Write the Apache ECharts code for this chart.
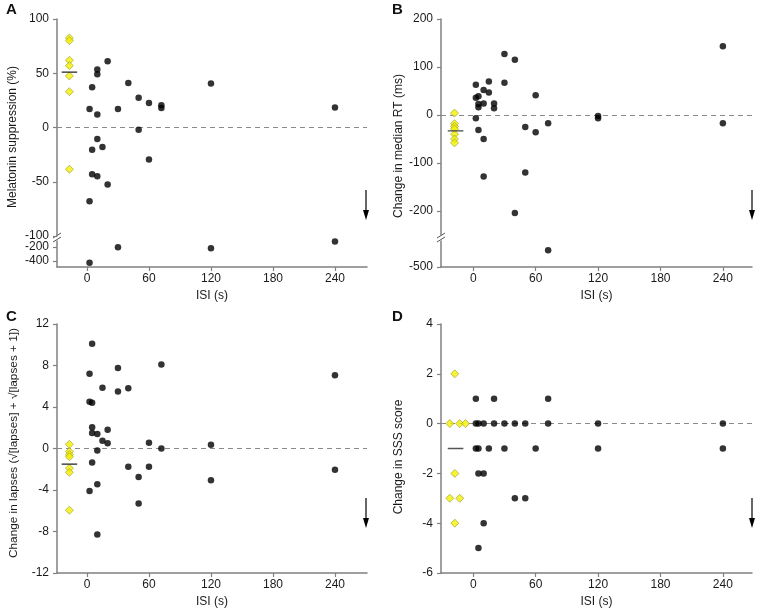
<!DOCTYPE html>
<html>
<head>
<meta charset="utf-8">
<script src="https://cdn.jsdelivr.net/npm/echarts@6/dist/echarts.min.js"></script>
<style>html,body{margin:0;padding:0;background:#fff}#c{width:760px;height:613px}</style>
</head>
<body>
<div id="c"></div>
<script>
// ---------- DATA ----------
const xTicks = [0, 60, 120, 180, 240];

// Panel A: melatonin suppression (%)
const aIsiUpper = [2.5, 5, 10, 10, 10, 20, 30, 40, 50, 50, 60, 60, 72, 72, 120, 240, 10, 5, 15, 5, 10, 20, 2.5];
const aValUpper = [17, 37, 53.5, 49, 12, 61, 17, 41, 27.5, -2, 22.5, -29.5, 20.5, 18, 40.5, 18.5, -10.5, -20.5, -18, -43, -45, -52.5, -68];
const aIsiLower = [2.5, 30, 120, 240];
const aValLower = [-430, -205, -220, -122];
const aIsiCtrl = [-17, -17, -17, -17, -17, -17, -17];
const aValCtrl = [82.5, 80, 62, 57, 47.5, 33, -38.5];
const aCtrlMean = 51;
const aTicksUpper = [-100, -50, 0, 50, 100];
const aTicksLower = [-200, -400];

// Panel B: change in median RT (ms)
const bIsiUpper = [2.5, 2.5, 2.5, 5, 5, 5, 5, 10, 10, 10, 10, 15, 15, 20, 20, 30, 30, 40, 40, 50, 50, 60, 60, 72, 120, 120, 240, 240];
const bValUpper = [63, 36, -7, 39, 23, 16, -31, 52, 24, -50, -128, 70, 47, 24, 14, 127, 67, 115, -204, -25, -120, 41, -36, -17, -2, -7, 143, -17];
const bIsiLower = [72];
const bValLower = [-340];
const bIsiCtrl = [-18, -18, -18, -18, -18, -18, -18];
const bValCtrl = [4, -18, -24, -29, -40, -50, -58];
const bCtrlMean = -33;
const bTicksUpper = [-200, -100, 0, 100, 200];
const bTicksLower = [-500];

// Panel C: change in lapses
const cIsi = [5, 2.5, 2.5, 5, 5, 5, 10, 10, 5, 2.5, 10, 10, 15, 15, 20, 20, 30, 30, 40, 40, 50, 50, 60, 60, 72, 72, 120, 120, 240, 240];
const cVal = [10.1, 7.2, 4.5, 4.4, 2.05, 1.5, 1.4, -0.2, -1.35, -4.1, -3.45, -8.3, 5.85, 0.75, 1.8, 0.5, 7.75, 5.5, 5.8, -1.75, -2.75, -5.3, 0.55, -1.75, 8.1, 0, 0.35, -3.05, 7.05, -2.05];
const cIsiCtrl = [-17, -17, -17, -17, -17, -17, -17];
const cValCtrl = [0.4, -0.3, -0.6, -0.8, -1.9, -2.3, -5.95];
const cCtrlMean = -1.5;
const cTicks = [-12, -8, -4, 0, 4, 8, 12];

// Panel D: change in SSS score
const dIsi = [2.5, 20, 72, 2.5, 5, 10, 20, 30, 40, 50, 72, 120, 240, 2.5, 5, 15, 30, 60, 120, 240, 5, 10, 40, 50, 10, 5];
const dVal = [1, 1, 1, 0, 0, 0, 0, 0, 0, 0, 0, 0, 0, -1, -1, -1, -1, -1, -1, -1, -2, -2, -3, -3, -4, -5];
const dIsiCtrl = [-17.7, -22.5, -13, -7.5, -17.7, -22.5, -13, -17.7];
const dValCtrl = [2, 0, 0, 0, -2, -3, -3, -4];
const dCtrlMean = -1;
const dTicks = [-6, -4, -2, 0, 2, 4];

const ctrlLineSpan = [-24.5, -9.5];

// ---------- STYLE / LAYOUT ----------
const FONT = 'Liberation Sans, Arial, Helvetica, sans-serif';
const AX = '#808080';
const TXT = '#1a1a1a';
const YEL = '#f2f000';
const YEL_B = '#9c9a30';

const zip = (xs, ys) => xs.map((x, i) => [x, ys[i]]);

const grids = [
  {left: 57, top: 19, width: 310, height: 217},   // A upper
  {left: 57, top: 241, width: 310, height: 26},   // A lower
  {left: 441, top: 19, width: 311, height: 216},  // B upper
  {left: 441, top: 241, width: 311, height: 26},  // B lower
  {left: 57, top: 324, width: 310, height: 249},  // C
  {left: 441, top: 324, width: 311, height: 249}  // D
].map(g => Object.assign({containLabel: false, outerBoundsMode: 'none'}, g));

const axLine = {show: true, lineStyle: {color: AX, width: 1.5}};
const axTick = (vals) => ({show: true, length: 4, lineStyle: {color: AX, width: 1.2}, customValues: vals});
const axLabel = (vals, extra) => Object.assign({color: TXT, fontSize: 12, fontFamily: FONT, customValues: vals}, extra || {});

function xAx(gi, min, max, visible) {
  return {
    type: 'value', gridIndex: gi, min: min, max: max,
    show: visible,
    axisLine: Object.assign({}, axLine, {onZero: false}),
    axisTick: axTick(xTicks),
    axisLabel: axLabel(xTicks, {margin: 6}),
    splitLine: {show: false},
    name: visible ? 'ISI (s)' : '',
    nameLocation: 'middle', nameGap: 23,
    nameTextStyle: {color: TXT, fontSize: 12, fontFamily: FONT}
  };
}
function yAx(gi, min, max, ticks) {
  return {
    type: 'value', gridIndex: gi, min: min, max: max,
    axisLine: Object.assign({}, axLine, {onZero: false}),
    axisTick: axTick(ticks),
    axisLabel: axLabel(ticks, {margin: 8}),
    splitLine: {show: false}
  };
}

const xAxes = [
  xAx(0, -29, 271, false), xAx(1, -29, 271, true),
  xAx(2, -31, 268, false), xAx(3, -31, 268, true),
  xAx(4, -29, 271, true), xAx(5, -31, 268, true)
];
const yAxes = [
  yAx(0, -100, 100, aTicksUpper), yAx(1, -490, -115, aTicksLower),
  yAx(2, -250, 200, bTicksUpper), yAx(3, -500, -250, bTicksLower),
  yAx(4, -12, 12, cTicks), yAx(5, -6, 4, dTicks)
];

function zeroRef(idx) {
  return {type: 'line', xAxisIndex: idx, yAxisIndex: idx, data: [], z: 1, silent: true,
    markLine: {silent: true, symbol: 'none', label: {show: false}, z: 1,
      lineStyle: {color: '#8a8a8a', type: [5, 4], width: 1}, data: [{yAxis: 0}]}};
}
function black(idx, data) {
  return {type: 'scatter', xAxisIndex: idx, yAxisIndex: idx, data: data, symbol: 'circle', symbolSize: 6.5,
    itemStyle: {color: '#000'}, z: 3, silent: true};
}
function yellow(idx, data) {
  return {type: 'scatter', xAxisIndex: idx, yAxisIndex: idx, data: data, symbol: 'diamond', symbolSize: 8,
    itemStyle: {color: YEL, borderColor: YEL_B, borderWidth: 0.8}, z: 4, silent: true};
}
function meanLine(idx, v, color) {
  return {type: 'line', xAxisIndex: idx, yAxisIndex: idx, data: [[ctrlLineSpan[0], v], [ctrlLineSpan[1], v]],
    symbol: 'none', lineStyle: {color: color, width: 1.3}, z: 5, silent: true};
}

const series = [
  zeroRef(0), zeroRef(2), zeroRef(4), zeroRef(5),
  black(0, zip(aIsiUpper, aValUpper)),
  yellow(0, zip(aIsiCtrl, aValCtrl)),
  meanLine(0, aCtrlMean, '#222'),
  black(1, zip(aIsiLower, aValLower)),
  black(2, zip(bIsiUpper, bValUpper)),
  yellow(2, zip(bIsiCtrl, bValCtrl)),
  meanLine(2, bCtrlMean, '#444'),
  black(3, zip(bIsiLower, bValLower)),
  black(4, zip(cIsi, cVal)),
  yellow(4, zip(cIsiCtrl, cValCtrl)),
  meanLine(4, cCtrlMean, '#222'),
  black(5, zip(dIsi, dVal)),
  yellow(5, zip(dIsiCtrl, dValCtrl)),
  meanLine(5, dCtrlMean, '#555')
];

// ---------- ANNOTATIONS ----------
function letter(t, x, y) {
  return {type: 'text', x: x, y: y, style: {text: t, font: 'bold 15px ' + FONT, fill: '#111', textAlign: 'left', textVerticalAlign: 'top', align: 'left', verticalAlign: 'top'}};
}
function yName(t, x, y, size) {
  return {type: 'text', x: x, y: y, rotation: Math.PI / 2,
    style: {text: t, font: (size || 12) + 'px ' + FONT, fill: TXT, textAlign: 'center', textVerticalAlign: 'middle', align: 'center', verticalAlign: 'middle'}};
}
function arrow(x, y1, y2) {
  return [
    {type: 'line', shape: {x1: x, y1: y1, x2: x, y2: y2 - 6}, style: {stroke: '#000', lineWidth: 1.2}},
    {type: 'polygon', shape: {points: [[x - 3, y2 - 10], [x + 3, y2 - 10], [x, y2]]}, style: {fill: '#000'}}
  ];
}
function brk(x) {
  return [
    {type: 'line', shape: {x1: x - 4, y1: 238, x2: x + 4, y2: 233}, style: {stroke: '#555', lineWidth: 1}},
    {type: 'line', shape: {x1: x - 4, y1: 242, x2: x + 4, y2: 237}, style: {stroke: '#555', lineWidth: 1}}
  ];
}

const graphic = [
  letter('A', 6, 2), letter('B', 392, 2), letter('C', 6, 309), letter('D', 392, 309),
  yName('Melatonin suppression (%)', 13, 137),
  yName('Change in median RT (ms)', 399, 146),
  yName('Change in lapses (√[lapses] + √[lapses + 1])', 13.5, 443, 11.8),
  yName('Change in SSS score', 399, 457)
].concat(arrow(366, 190, 220), arrow(752, 190, 220), arrow(366, 498, 528), arrow(752, 498, 528), brk(57), brk(441));

const chart = echarts.init(document.getElementById('c'), null, {renderer: 'canvas'});
chart.setOption({
  animation: false,
  backgroundColor: '#fff',
  textStyle: {fontFamily: FONT},
  grid: grids,
  xAxis: xAxes,
  yAxis: yAxes,
  series: series,
  graphic: graphic
});
</script>
</body>
</html>
